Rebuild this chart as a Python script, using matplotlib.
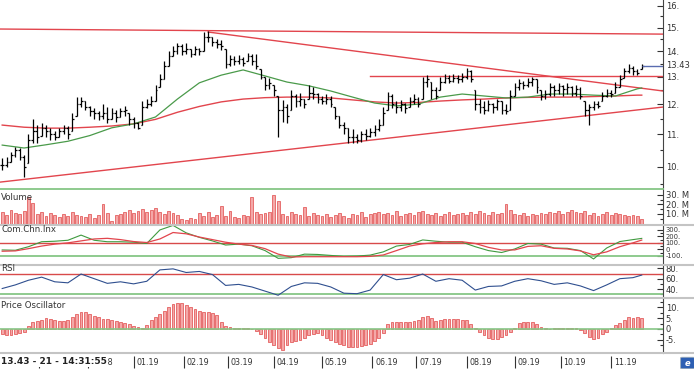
import numpy as np
import pandas as pd
import matplotlib
matplotlib.use('Agg')
import matplotlib.pyplot as plt
from matplotlib.ticker import FixedLocator, FixedFormatter, NullFormatter
from matplotlib.lines import Line2D
from matplotlib.patches import FancyBboxPatch
from matplotlib.transforms import Bbox

# ---------------- data (one bar = 2 trading days) ----------------
last_date = '2019-11-21'
stamp = '13.43 - 21 - 14:31:55'
last_price = 13.43

closes = [
    10.05, 10.15, 10.35, 10.5, 10.3, 10.0, 10.8, 11.1, 10.9, 11.2,
    11.1, 11.0, 10.9, 11.1, 11.2, 11.0, 11.5, 12.0, 12.1, 11.9,
    11.75, 11.7, 11.6, 11.7, 11.5, 11.7, 11.55, 11.75, 11.8, 11.5,
    11.35, 11.2, 11.9, 12.0, 12.1, 12.5, 12.9, 13.4, 13.8, 14.0,
    14.2, 14.0, 14.1, 13.9, 14.1, 14.0, 14.6, 14.6, 14.4, 14.3,
    14.2, 13.5, 13.7, 13.6, 13.7, 13.55, 13.8, 13.6, 13.4, 13.0,
    12.7, 12.75, 12.5, 11.8, 11.9, 11.6, 12.3, 12.1, 12.2, 12.0,
    12.4, 12.35, 12.2, 12.1, 12.2, 12.0, 11.6, 11.3, 11.2, 10.9,
    10.9, 10.8, 11.0, 10.95, 11.05, 11.15, 11.3, 11.7, 12.3, 12.0,
    11.9, 12.0, 11.85, 12.1, 12.2, 12.0, 12.8, 12.9, 12.5, 12.3,
    12.8, 12.95, 12.85, 12.95, 12.9, 13.0, 13.2, 12.9, 12.0, 11.9,
    11.8, 12.0, 11.9, 12.1, 11.8, 11.75, 12.3, 12.6, 12.75, 12.7,
    12.8, 12.9, 12.6, 12.3, 12.35, 12.6, 12.5, 12.65, 12.55, 12.6,
    12.4, 12.55, 12.3, 11.8, 11.9, 12.0, 11.95, 12.3, 12.4, 12.35,
    12.6, 12.9, 13.2, 13.35, 13.2, 13.15, 13.43]
highs = [
    10.25, 10.3, 10.45, 10.6, 10.55, 10.35, 11.0, 11.5, 11.3, 11.35,
    11.3, 11.2, 11.1, 11.2, 11.3, 11.25, 11.7, 12.25, 12.25, 12.1,
    11.95, 11.85, 11.75, 12.0, 11.9, 11.85, 11.8, 11.85, 11.95, 11.7,
    11.55, 11.4, 12.1, 12.2, 12.3, 12.7, 13.1, 13.6, 14.0, 14.2,
    14.35, 14.3, 14.35, 14.1, 14.2, 14.15, 14.8, 14.85, 14.6, 14.5,
    14.45, 14.1, 13.85, 13.8, 13.85, 13.75, 13.95, 13.9, 13.9, 13.3,
    13.0, 12.95, 12.7, 12.3, 12.15, 12.0, 12.5, 12.35, 12.4, 12.2,
    12.7, 12.6, 12.4, 12.3, 12.35, 12.3, 11.9, 11.6, 11.4, 11.2,
    11.15, 11.0, 11.1, 11.15, 11.2, 11.3, 11.5, 11.9, 12.45, 12.35,
    12.1, 12.15, 12.05, 12.25, 12.35, 12.25, 13.0, 13.05, 12.8, 12.6,
    13.0, 13.1, 13.05, 13.1, 13.05, 13.15, 13.35, 13.25, 12.5, 12.2,
    12.1, 12.15, 12.05, 12.2, 12.1, 12.0, 12.5, 12.75, 12.9, 12.85,
    12.95, 13.0, 12.9, 12.5, 12.5, 12.75, 12.7, 12.75, 12.7, 12.75,
    12.65, 12.7, 12.6, 12.1, 12.0, 12.1, 12.1, 12.45, 12.55, 12.5,
    12.8, 13.05, 13.35, 13.5, 13.4, 13.3, 13.5]
lows = [
    9.9, 10.0, 10.15, 10.3, 10.2, 9.7, 10.1, 10.7, 10.7, 10.95,
    10.9, 10.8, 10.8, 10.9, 11.0, 10.85, 11.1, 11.6, 11.9, 11.8,
    11.6, 11.5, 11.45, 11.5, 11.35, 11.5, 11.4, 11.55, 11.6, 11.3,
    11.2, 11.15, 11.3, 11.85, 11.95, 12.1, 12.6, 12.9, 13.4, 13.8,
    13.9, 13.85, 13.9, 13.75, 13.85, 13.85, 14.0, 14.4, 14.2, 14.15,
    14.05, 13.35, 13.4, 13.45, 13.5, 13.4, 13.6, 13.45, 13.3, 12.9,
    12.5, 12.55, 12.3, 10.9, 11.4, 11.35, 11.8, 11.9, 11.95, 11.85,
    12.2, 12.2, 12.05, 12.0, 12.0, 11.9, 11.5, 11.2, 11.0, 10.7,
    10.7, 10.7, 10.75, 10.8, 10.9, 10.95, 11.1, 11.3, 11.8, 11.85,
    11.7, 11.75, 11.7, 11.9, 12.0, 11.9, 12.2, 12.6, 12.2, 12.2,
    12.5, 12.75, 12.75, 12.8, 12.75, 12.8, 12.9, 12.8, 11.8, 11.7,
    11.65, 11.75, 11.7, 11.8, 11.65, 11.65, 11.8, 12.3, 12.5, 12.55,
    12.6, 12.65, 12.4, 12.15, 12.2, 12.3, 12.3, 12.35, 12.3, 12.35,
    12.3, 12.3, 12.2, 11.6, 11.3, 11.8, 11.85, 12.1, 12.25, 12.25,
    12.4, 12.6, 12.95, 13.15, 13.05, 13.05, 13.3]

# moving averages, read every 5th bar
ma_green = [10.65, 10.56, 10.66, 10.77, 10.95, 11.20, 11.33, 11.56, 12.18, 12.77,
            13.06, 13.26, 13.03, 12.80, 12.66, 12.47, 12.25, 12.04, 11.94, 12.00,
            12.25, 12.36, 12.29, 12.22, 12.25, 12.36, 12.36, 12.32, 12.29, 12.55, 12.58]
ma_red = [11.29, 11.22, 11.19, 11.19, 11.22, 11.26, 11.33, 11.48, 11.72, 11.92,
          12.08, 12.18, 12.23, 12.25, 12.25, 12.22, 12.15, 12.08, 12.04, 12.06,
          12.11, 12.15, 12.18, 12.22, 12.24, 12.25, 12.25, 12.27, 12.29, 12.32, 12.32]

# trend lines: (day index, price) pairs
trend_lines = [((0, 14.94), (302.7, 14.72)),
               ((95, 14.81), (302.7, 12.47)),
               ((0, 9.56), (302.7, 11.90)),
               ((169, 13.03), (302.7, 13.03))]

volume = [12, 9, 14, 11, 10, 13, 28, 21, 10, 12, 8, 11, 9, 7, 10, 8,
          12, 9, 8, 7, 10, 6, 9, 20, 11, 3, 9, 10, 12, 14, 11,
          13, 15, 12, 14, 16, 12, 10, 13, 11, 9, 5, 4, 6, 5, 11, 8, 12, 7,
          9, 18, 8, 13, 7, 6, 9, 8, 28, 12, 10, 11, 12,
          30, 23, 10, 8, 12, 10, 9, 17, 8, 11, 9, 8, 10, 7,
          9, 11, 8, 6, 10, 9, 12, 7, 10, 11, 12, 10, 11, 9, 13, 8, 10, 11, 9, 12,
          13, 10, 9, 11, 8, 10, 12, 9, 10, 11, 9, 12, 10, 13, 11, 9, 12, 10, 11, 20,
          14, 10, 9, 11, 8, 10, 9, 11, 10, 12, 11, 13, 10, 12, 14, 12, 11, 13, 9, 11,
          8, 10, 12, 9, 11, 10, 9, 8, 9, 8, 5]

# indicators, read every 3rd bar
cci_fast = [-10, -15, 40, 117, 125, 140, 220, 140, 117, 117,
            110, 90, 300, 370, 255, 185, 130, 66, 80, 55,
            -20, -140, -130, -75, -80, -95, -110, -105, -90, -40,
            50, 75, 145, 125, 110, 110, 40, -20, -50, 5,
            90, 80, 20, 15, -20, -150, 20, 120, 150, 169]
cci_slow = [-30, -25, 10, 50, 80, 100, 130, 160, 170, 150,
            120, 105, 160, 260, 240, 190, 150, 110, 80, 60,
            10, -75, -120, -115, -115, -115, -115, -115, -110, -88,
            -20, 50, 85, 105, 117, 117, 90, 30, -10, -10,
            45, 55, 15, 5, -25, -85, -40, 40, 100, 143]
rsi = [41, 48, 57, 63, 54, 52, 69, 60, 51, 54,
       50, 55, 77, 79, 72, 74, 68, 47, 49, 44,
       36, 28, 45, 52, 51, 44, 32, 31, 38, 68,
       58, 61, 69, 55, 60, 57, 38, 45, 46, 55,
       60, 56, 49, 52, 46, 37, 48, 60, 62, 67]

osc = [-2.5, -3.0, -2.8, -2.2, -1.8, -1.2, 1.5, 3.0, 3.5, 4.0,
       5.0, 4.6, 4.2, 3.8, 3.5, 4.2, 5.5, 7.0, 8.0, 7.8,
       6.8, 6.0, 5.5, 4.8, 4.5, 4.0, 3.5, 3.2, 2.8, 2.2,
       1.6, 1.0, 0.5, 2.0, 4.0, 5.5, 7.0, 8.5, 10.0, 11.5,
       12.2, 12.0, 11.0, 10.0, 9.2, 8.5, 8.0, 7.8, 7.2, 6.5,
       3.0, 1.5, 1.0, 0.6, 0.4, 0.5, 0.3, 0.2, -0.8, -2.2,
       -4.0, -5.8, -7.5, -9.0, -9.7, -7.5, -6.2, -5.5, -5.0, -4.0,
       -3.0, -2.2, -2.0, -2.8, -4.0, -5.0, -5.8, -6.8, -7.5, -8.1,
       -8.2, -8.2, -8.0, -7.5, -6.8, -5.5, -4.2, -2.0, 2.5, 3.0,
       3.0, 3.2, 3.0, 3.2, 3.5, 4.2, 5.4, 5.8, 5.0, 3.5,
       4.0, 4.4, 4.6, 4.4, 4.4, 4.2, 4.0, 2.5, 0.3, -1.2,
       -3.0, -4.0, -4.8, -4.5, -3.8, -2.8, -1.5, 0.5, 2.6, 3.0,
       3.4, 3.2, 2.5, 1.0, 0.3, 0.2, 0.5, 0.4, 0.6, 0.5,
       0.4, 0.3, -0.5, -2.0, -3.5, -4.8, -4.0, -2.5, -1.2, 0.5,
       1.8, 2.6, 4.0, 5.7, 5.2, 5.4, 5.2]

# ---------------- layout ----------------
W, H = 694, 369
XR = 663          # right axis position in px
XMAX = 302.7      # day index at the right axis
RED = '#e2454d'
GREEN_L = '#86c686'
GREY = '#c4c4c4'
BAR_FACE = '#f4a8a8'
BAR_EDGE = '#e04848'

n = len(closes)
days = pd.bdate_range(end=last_date, periods=2 * n)
bar_x = np.arange(n) * 2 + 1
ma_x = bar_x[np.r_[0:n - 1:5, n - 1]]
ind_x = bar_x[np.r_[0:n - 1:3, n - 1]]

fig = plt.figure(figsize=(W / 100, H / 100), dpi=100)


def panel(top, bottom):
    ax = fig.add_axes([0, 1 - bottom / H, XR / W, (bottom - top) / H])
    for s in ['left', 'top', 'bottom']:
        ax.spines[s].set_visible(False)
    ax.spines['right'].set_color('#444')
    ax.spines['right'].set_linewidth(0.8)
    ax.set_xlim(0, XMAX)
    ax.set_xticks([])
    ax.yaxis.tick_right()
    return ax


def style_ticks(ax, major, labels, minor, size=6):
    ax.yaxis.set_major_locator(FixedLocator(major))
    ax.yaxis.set_major_formatter(FixedFormatter(labels))
    ax.yaxis.set_minor_locator(FixedLocator(minor))
    ax.yaxis.set_minor_formatter(NullFormatter())
    ax.tick_params(axis='y', which='both', direction='in', pad=2,
                   labelsize=size, colors='#333', width=0.8)
    ax.tick_params(axis='y', which='major', length=4)
    ax.tick_params(axis='y', which='minor', length=2)


# ---- price panel ----
ax = panel(0, 189)
ax.set_yscale('log')
ax.set_ylim(9.37, 16.26)
style_ticks(ax, range(10, 17), ['%d.' % v for v in range(10, 17)],
            [v + 0.5 for v in range(9, 16)])
ax.spines['bottom'].set_visible(True)
ax.spines['bottom'].set_color(GREEN_L)
ax.spines['bottom'].set_linewidth(1.3)

for (x0, y0), (x1, y1) in trend_lines:
    ax.plot([x0, x1], [y0, y1], color=RED, lw=1.0)
ax.plot(ma_x, ma_red, color=RED, lw=1.0)
ax.plot(ma_x, ma_green, color='#4a9a4a', lw=0.9)

opens = np.clip(np.r_[closes[0], closes[:-1]], lows, highs)
ax.vlines(bar_x, lows, highs, color='k', lw=0.9)
ax.hlines(opens, bar_x - 0.8, bar_x, color='k', lw=0.9)
ax.hlines(closes, bar_x, bar_x + 0.8, color='k', lw=0.9)

ax.hlines(last_price, bar_x[-1], XMAX, color='#5a6cb0', lw=1.0)
ax.annotate('%.2f' % last_price, xy=(1, last_price), xycoords=('axes fraction', 'data'),
            xytext=(2.5, 0), textcoords='offset points', va='center',
            fontsize=6, color='#333')

# ---- volume ----
ax = panel(190, 224)
ax.set_ylim(-0.5, 35)
ax.bar(bar_x, volume, width=1.3, color=BAR_FACE, edgecolor=BAR_EDGE, linewidth=0.5)
style_ticks(ax, [10, 20, 30], ['10. M', '20. M', '30. M'], [5, 15, 25])

# ---- commodity channel index ----
ax = panel(226, 264)
ax.set_ylim(-228, 361)
ax.axhline(100, color='#d84a4a', lw=1.0)
ax.axhline(-100, color=GREEN_L, lw=1.3)
ax.plot(ind_x, cci_fast, color='#3f9a3f', lw=0.8)
ax.plot(ind_x, cci_slow, color=RED, lw=0.9)
style_ticks(ax, [-100, 0, 100, 200, 300], ['-100.', '0', '100.', '200.', '300.'],
            [-50, 50, 150, 250], size=4.9)

# ---- RSI ----
ax = panel(265.5, 297)
ax.set_ylim(24.6, 85.5)
ax.axhline(70, color='#d84a4a', lw=1.0)
ax.axhline(30, color=GREEN_L, lw=1.3)
ax.plot(ind_x, rsi, color='#2f4f8f', lw=0.8)
style_ticks(ax, [40, 60, 80], ['40.', '60.', '80.'], [30, 50, 70])

# ---- price oscillator ----
ax = panel(298, 353)
ax.set_ylim(-11.1, 14.3)
ax.bar(bar_x, osc, width=1.3, color=BAR_FACE, edgecolor=BAR_EDGE, linewidth=0.5)
ax.axhline(0, color=GREEN_L, lw=1.2)
style_ticks(ax, [-5, 0, 5, 10], ['-5.', '0', '5.', '10.'], [-7.5, -2.5, 2.5, 7.5, 12.5])

# panel titles
for txt, ypx in [('Volume', 197), ('Com.Chn.Inx', 230), ('RSI', 268.5), ('Price Oscillator', 306)]:
    fig.text(1 / W, 1 - ypx / H, txt, fontsize=6.2, color='#333', va='center')

# separators
for ypx in [225, 265, 297.5, 353]:
    fig.add_artist(Line2D([0, 1], [1 - ypx / H] * 2, transform=fig.transFigure,
                          color=GREY, lw=1.5))

# ---- date strip ----
st = fig.text(1 / W, 1 - 361 / H, stamp, fontsize=6.5, weight='bold', color='#222',
              va='center', zorder=10,
              bbox=dict(facecolor='white', edgecolor='none', pad=1.0))
fig.canvas.draw()
st_right = st.get_window_extent().x1 + 1

axd = fig.add_axes([0, 0, XR / W, 15 / H])
axd.set_xlim(0, XMAX)
axd.set_ylim(0, 1)
axd.axis('off')
clip = Bbox([[st_right, 0], [W, 15]])
for i in range(1, len(days)):
    if days[i].month != days[i - 1].month:
        axd.vlines(i, 0.1, 0.85, color='#333', lw=0.8)
        t = axd.text(i + 1.3, 0.45, days[i].strftime('%m.%y'), fontsize=5.8,
                     color='#333', va='center')
        x_end = t.get_window_extent(fig.canvas.get_renderer()).x1
        if x_end <= st_right:
            t.remove()
        else:
            t.set_clip_box(clip)
            t.set_clip_on(True)

icon = FancyBboxPatch((682 / W, 1 / H), 11 / W, 10 / H, boxstyle='round,pad=0.002',
                      transform=fig.transFigure, facecolor='#2d5fb3', edgecolor='#9ab',
                      lw=0.6)
fig.add_artist(icon)
fig.text(687.5 / W, 6 / H, 'e', fontsize=6, weight='bold', style='italic',
         color='white', ha='center', va='center')

fig.savefig('out.png', dpi=100)
